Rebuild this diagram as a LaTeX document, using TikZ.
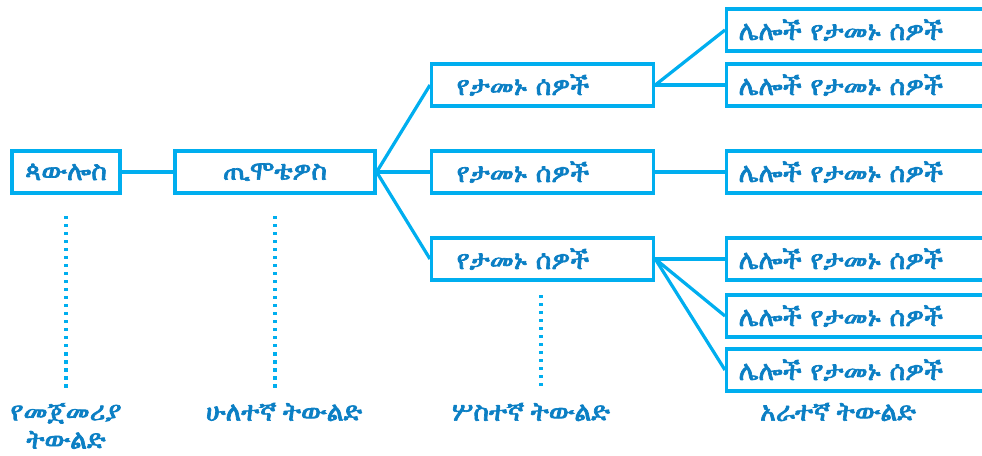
\documentclass[tikz,border=0pt]{standalone}
\usepackage{fontspec}
% pick an installed face that has Ethiopic letters
\newif\ifethfound
\def\ethname{DejaVu Sans}
\newcommand\tryeth[1]{%
  \ifethfound\else
    \IfFontExistsTF{#1}{%
      \font\ethtest="#1" at 10pt
      \iffontchar\ethtest"1230 \global\ethfoundtrue\gdef\ethname{#1}\fi
    }{}%
  \fi}
\tryeth{FreeSans}
\tryeth{FreeSerif}
\tryeth{Abyssinica SIL}
\tryeth{GF Zemen Unicode}
\tryeth{Ethiopia Jiret}
\tryeth{Code2000}
\tryeth{DejaVu Sans}
\tryeth{Unifont}
\newfontfamily\ethfont[FakeBold=2.6]{\ethname}
\definecolor{linecyan}{HTML}{00AEEF}
\definecolor{textblue}{HTML}{0B7FC4}

\begin{document}
\begin{tikzpicture}[x=0.025cm, y=-0.025cm, line width=2.3pt,
    gen/.style={draw=linecyan, text=textblue, minimum height=1.05cm, font=\ethfont\fontsize{19}{20}\selectfont},
    genlabel/.style={text=textblue, align=center, font=\ethfont\fontsize{19}{20}\selectfont},
    link/.style={draw=linecyan},
    gap/.style={draw=linecyan, line width=2.3pt, dash pattern=on 2.3pt off 3.4pt}]
\clip (0,0) rectangle (982,455);

\node[gen, minimum width=2.7cm] (P) at (66,172) {ጳውሎስ};
\node[gen, minimum width=5cm] (T) at (275,172) {ጢሞቴዎስ};
\node[gen, anchor=west, minimum width=5.55cm, text width=4.3cm, inner xsep=0.625cm, align=left] (F1) at (430,85) {የታመኑ ሰዎች};
\node[gen, anchor=west, minimum width=5.55cm, text width=4.3cm, inner xsep=0.625cm, align=left] (F2) at (430,172) {የታመኑ ሰዎች};
\node[gen, anchor=west, minimum width=5.55cm, text width=4.3cm, inner xsep=0.625cm, align=left] (F3) at (430,259) {የታመኑ ሰዎች};
\node[gen, anchor=west, text width=7cm, inner xsep=0.3cm, align=left] (O1) at (725,30) {ሌሎች የታመኑ ሰዎች};
\node[gen, anchor=west, text width=7cm, inner xsep=0.3cm, align=left] (O2) at (725,85) {ሌሎች የታመኑ ሰዎች};
\node[gen, anchor=west, text width=7cm, inner xsep=0.3cm, align=left] (O3) at (725,172) {ሌሎች የታመኑ ሰዎች};
\node[gen, anchor=west, text width=7cm, inner xsep=0.3cm, align=left] (O4) at (725,259) {ሌሎች የታመኑ ሰዎች};
\node[gen, anchor=west, text width=7cm, inner xsep=0.3cm, align=left] (O5) at (725,316) {ሌሎች የታመኑ ሰዎች};
\node[gen, anchor=west, text width=7cm, inner xsep=0.3cm, align=left] (O6) at (725,370) {ሌሎች የታመኑ ሰዎች};

\draw[link] (P) -- (T);
\draw[link] (T.east) -- (F1.west);
\draw[link] (T.east) -- (F2.west);
\draw[link] (T.east) -- (F3.west);
\draw[link] (F1.east) -- (O1.west);
\draw[link] (F1.east) -- (O2.west);
\draw[link] (F2.east) -- (O3.west);
\draw[link] (F3.east) -- (O4.west);
\draw[link] (F3.east) -- (O5.west);
\draw[link] (F3.east) -- (O6.west);

% generation labels
\node[genlabel] (G1) at (66,426) {የመጀመሪያ\\ትውልድ};
\node[genlabel] (G2) at (284,412) {ሁለተኛ ትውልድ};
\node[genlabel] (G3) at (531,412) {ሦስተኛ ትውልድ};
\node[genlabel] (G4) at (838,412) {አራተኛ ትውልድ};

\coordinate (D1) at (66,216);
\coordinate (D2) at (275,216);
\coordinate (D3) at (541,295);
\draw[gap] (D1) -- (D1 |- 0,390);
\draw[gap] (D2) -- (D2 |- 0,390);
\draw[gap] (D3) -- (D3 |- 0,390);
\end{tikzpicture}
\end{document}
